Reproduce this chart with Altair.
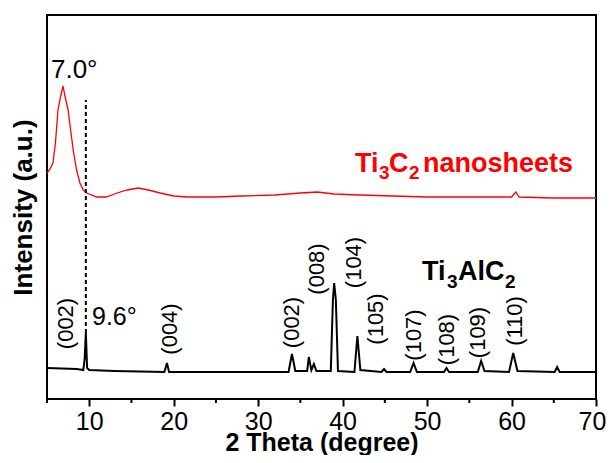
import altair as alt
import pandas as pd

FONT = "Liberation Sans"

# Ti3AlC2 pattern (black)
black_theta = [5.0, 8.5, 9.3, 9.45, 9.6, 9.75, 10.0, 13.0, 18.9, 19.2, 19.45,
               33.6, 34.0, 34.4, 35.8, 36.0, 36.3, 36.6, 36.9, 38.6, 38.85, 39.0,
               39.2, 39.45, 41.4, 41.75, 42.1, 44.6, 44.9, 45.2, 48.0, 48.4, 48.8,
               52.0, 52.3, 52.6, 56.0, 56.4, 56.8, 59.7, 60.2, 60.7, 65.1, 65.4,
               65.7, 70.0]
black_int = [31, 30, 29, 39, 66, 31, 29, 28, 27, 36, 27,
             27, 45, 28, 28, 42, 29, 35, 28, 28, 99, 116,
             99, 28, 27, 63, 29, 27, 30, 27, 27, 36, 27,
             27, 31, 27, 27, 38, 28, 27, 46, 28, 27, 32,
             27, 27]

# Ti3C2 nanosheets pattern (red)
red_theta = [5.0, 5.3, 5.7, 6.0, 6.3, 6.6, 6.9, 7.1, 7.5, 8.1, 8.5, 8.9, 9.3,
             9.7, 10.9, 12.0, 13.3, 14.5, 15.8, 17.0, 18.4, 20.0, 21.6, 25.0,
             28.0, 32.0, 35.0, 37.0, 39.0, 42.0, 46.0, 50.0, 55.0, 60.0, 60.5,
             60.9, 65.0, 70.0]
red_int = [226, 229, 236, 256, 289, 302, 313, 304, 289, 249, 229, 216, 209,
           206, 202, 202, 206, 209, 211, 209, 206, 203, 202, 202,
           203, 204, 206, 207, 205, 204, 203, 202, 202, 202, 207,
           202, 201, 201]

# Miller-index labels
hkl_labels = ["(002)", "(004)", "(002)", "(008)", "(104)", "(105)", "(107)",
              "(108)", "(109)", "(110)"]
hkl_theta = [7.25, 19.56, 34.0, 36.97, 41.35, 43.95, 48.45, 52.36, 56.03, 60.41]
hkl_int = [75.5, 70, 76.5, 130, 136.5, 80, 64, 59.5, 66.5, 78]

x_ticks = [10, 20, 30, 40, 50, 60, 70]
minor_ticks = [5, 15, 25, 35, 45, 55, 65]

W, H = 549, 384
xs = alt.Scale(domain=[5, 70], nice=False, zero=False)
ys = alt.Scale(domain=[0, 384], nice=False, zero=False)

X_AXIS = alt.Axis(values=x_ticks, title="2 Theta (degree)", grid=False,
                  domain=False, tickSize=7, tickWidth=2, tickColor="black",
                  labelFontSize=25, labelPadding=3, labelColor="black",
                  labelOffset={"condition": {"test": "datum.value == 70", "value": -4}, "value": 0},
                  titleFontSize=25, titleFontWeight="bold", titlePadding=-4,
                  titleColor="black", labelFlush=False)
Y_AXIS = alt.Axis(title="Intensity (a.u.)", labels=False, ticks=False,
                  domain=False, grid=False, titleFontSize=26,
                  titleFontWeight="bold", titlePadding=11, titleColor="black")


def xenc():
    return alt.X("theta:Q", scale=xs, axis=X_AXIS)


def yenc():
    return alt.Y("intensity:Q", scale=ys, axis=Y_AXIS)


df_black = pd.DataFrame({"theta": black_theta, "intensity": black_int})
df_red = pd.DataFrame({"theta": red_theta, "intensity": red_int})
df_hkl = pd.DataFrame({"theta": hkl_theta, "intensity": hkl_int, "label": hkl_labels})

black = alt.Chart(df_black).mark_line(color="black", strokeWidth=2).encode(x=xenc(), y=yenc())
red = alt.Chart(df_red).mark_line(color="#ff0000", strokeWidth=1.3).encode(x=xenc(), y=yenc())

df_dash = pd.DataFrame({"theta": [9.6], "intensity": [66], "intensity2": [299]})
dash = alt.Chart(df_dash).mark_rule(color="black", strokeWidth=2, strokeDash=[4, 3]).encode(
    x=xenc(), y=yenc(), y2="intensity2:Q",
)

df_minor = pd.DataFrame({"theta": minor_ticks})
minor = alt.Chart(df_minor).mark_rule(color="black", strokeWidth=2).encode(
    x=xenc(), y=alt.value(H), y2=alt.value(H + 4),
)

hkl = alt.Chart(df_hkl).mark_text(angle=270, fontSize=22, font=FONT, align="center",
                                  baseline="middle", color="black").encode(
    x=xenc(), y=yenc(), text="label:N",
)


def txt(theta, inten, s, size, color="black", weight="normal", dx=0, dy=0):
    d = pd.DataFrame({"theta": [theta], "intensity": [inten], "label": [s]})
    return alt.Chart(d).mark_text(font=FONT, fontSize=size, fontWeight=weight, color=color,
                                  align="left", baseline="alphabetic", dx=dx, dy=dy).encode(
        x=xenc(), y=yenc(), text="label:N",
    )


angle_labels = [
    txt(5.47, 321, "7.0°", 26),
    txt(10.33, 74, "9.6°", 25),
]

RED = "#ff0000"
red_title = [
    txt(41.47, 227, "Ti", 27, RED, "bold"),
    txt(41.47, 227, "3", 19, RED, "bold", dx=24, dy=7),
    txt(41.47, 227, "C", 27, RED, "bold", dx=34),
    txt(41.47, 227, "2", 19, RED, "bold", dx=54, dy=7),
    txt(41.47, 227, "nanosheets", 27, RED, "bold", dx=68),
]

black_title = [
    txt(49.40, 119, "Ti", 27, "black", "bold"),
    txt(49.40, 119, "3", 19, "black", "bold", dx=25, dy=8),
    txt(49.40, 119, "AlC", 27, "black", "bold", dx=36),
    txt(49.40, 119, "2", 19, "black", "bold", dx=83, dy=8),
]

chart = alt.layer(black, red, dash, minor, hkl, *angle_labels, *red_title, *black_title).properties(
    width=W, height=H,
    background="white",
    autosize=alt.AutoSizeParams(type="none"),
    padding={"left": 39, "top": 7, "right": 11, "bottom": 56},
).configure_view(stroke="black", strokeWidth=2).configure_axis(
    labelFont=FONT, titleFont=FONT
)

chart.save("out.html", embed_options={"renderer": "svg", "actions": False})
